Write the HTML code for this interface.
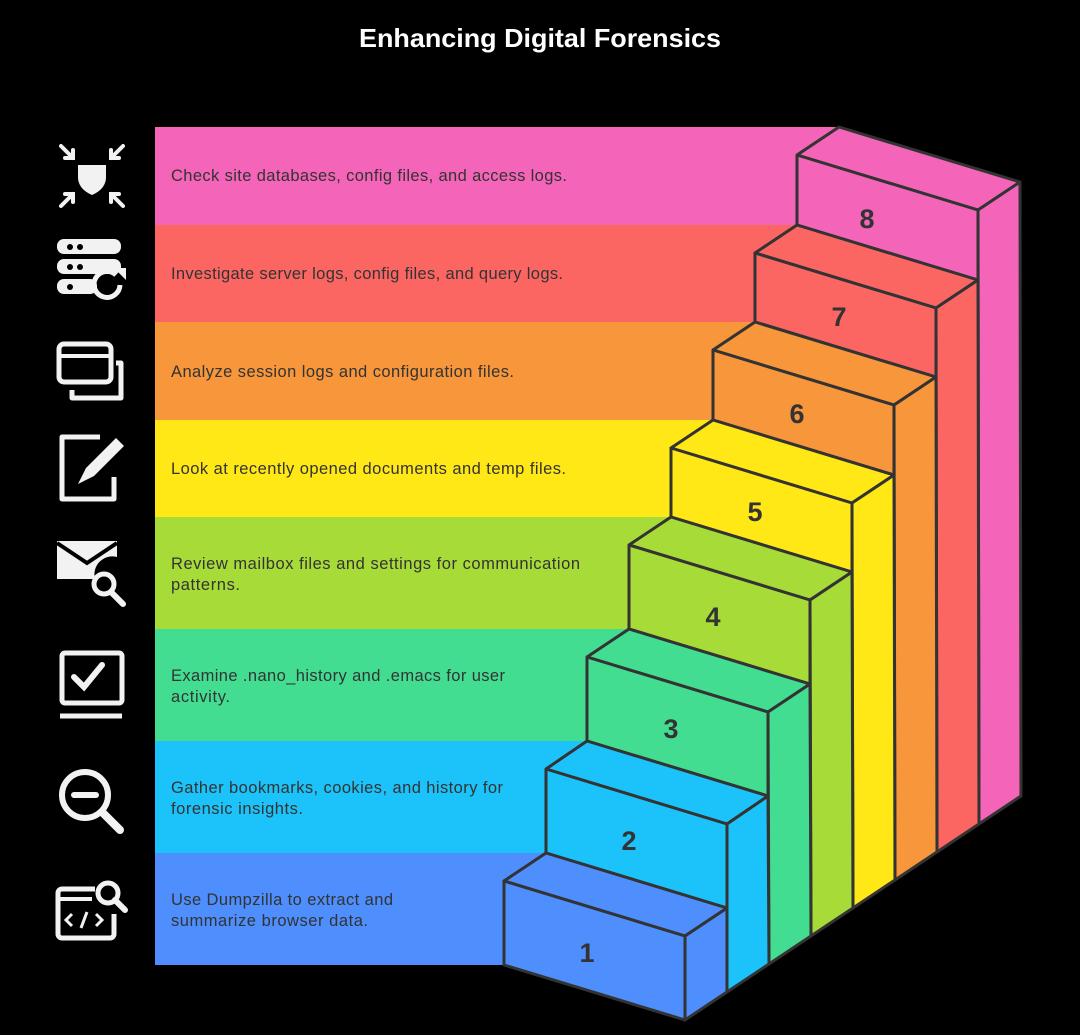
<!DOCTYPE html>
<html><head><meta charset="utf-8"><style>
html,body{margin:0;padding:0;background:#000;}
svg{display:block;}
text{font-family:"Liberation Sans",sans-serif;}
</style></head><body>
<svg width="1080" height="1035" viewBox="0 0 1080 1035" xmlns="http://www.w3.org/2000/svg">
<rect width="1080" height="1035" fill="#000"/>
<text x="359" y="47" font-size="26" font-weight="bold" fill="#fff" textLength="362" lengthAdjust="spacingAndGlyphs">Enhancing Digital Forensics</text>
<!-- bands -->
<rect x="155" y="127" width="684" height="98" fill="#F464B9"/>
<rect x="155" y="225" width="642" height="97" fill="#FB6663"/>
<rect x="155" y="322" width="600" height="98" fill="#F7963A"/>
<rect x="155" y="420" width="558" height="97" fill="#FFE815"/>
<rect x="155" y="517" width="516" height="112" fill="#A7DB38"/>
<rect x="155" y="629" width="474" height="112" fill="#43DD91"/>
<rect x="155" y="741" width="432" height="112" fill="#1CC3FA"/>
<rect x="155" y="853" width="390" height="112" fill="#4E8EFD"/>
<g stroke="#333" stroke-width="3" stroke-linejoin="round">
<polygon points="839,127 1020,182 978,210 797,155" fill="#F464B9"/>
<polygon points="797,155 978,210 978,280 797,225" fill="#F464B9"/>
<polygon points="978,210 1020,182 1021,796 979,824" fill="#F464B9"/>
<polygon points="797,225 978,280 936,308 755,253" fill="#FB6663"/>
<polygon points="755,253 936,308 936,377 755,322" fill="#FB6663"/>
<polygon points="936,308 978,280 979,824 937,852" fill="#FB6663"/>
<polygon points="755,322 936,377 894,405 713,350" fill="#F7963A"/>
<polygon points="713,350 894,405 894,475 713,420" fill="#F7963A"/>
<polygon points="894,405 936,377 937,852 895,880" fill="#F7963A"/>
<polygon points="713,420 894,475 852,503 671,448" fill="#FFE815"/>
<polygon points="671,448 852,503 852,572 671,517" fill="#FFE815"/>
<polygon points="852,503 894,475 895,880 853,908" fill="#FFE815"/>
<polygon points="671,517 852,572 810,600 629,545" fill="#A7DB38"/>
<polygon points="629,545 810,600 810,684 629,629" fill="#A7DB38"/>
<polygon points="810,600 852,572 853,908 811,936" fill="#A7DB38"/>
<polygon points="629,629 810,684 768,712 587,657" fill="#43DD91"/>
<polygon points="587,657 768,712 768,796 587,741" fill="#43DD91"/>
<polygon points="768,712 810,684 811,936 769,964" fill="#43DD91"/>
<polygon points="587,741 768,796 727,824 546,769" fill="#1CC3FA"/>
<polygon points="546,769 727,824 727,908 546,853" fill="#1CC3FA"/>
<polygon points="727,824 768,796 769,964 727,992" fill="#1CC3FA"/>
<polygon points="546,853 727,908 685,936 504,881" fill="#4E8EFD"/>
<polygon points="504,881 685,936 685,1020 504,965" fill="#4E8EFD"/>
<polygon points="685,936 727,908 727,992 685,1020" fill="#4E8EFD"/>
</g>
<g font-size="27" font-weight="bold" fill="#333" text-anchor="middle">
<text x="867" y="228">8</text>
<text x="839" y="326">7</text>
<text x="797" y="423">6</text>
<text x="755" y="521">5</text>
<text x="713" y="626">4</text>
<text x="671" y="738">3</text>
<text x="629" y="850">2</text>
<text x="587" y="962">1</text>
</g>
<g font-size="16.5" fill="#333" lengthAdjust="spacingAndGlyphs">
<text x="171" y="181" textLength="396">Check site databases, config files, and access logs.</text>
<text x="171" y="279" textLength="392">Investigate server logs, config files, and query logs.</text>
<text x="171" y="377" textLength="343">Analyze session logs and configuration files.</text>
<text x="171" y="474" textLength="395">Look at recently opened documents and temp files.</text>
<text x="171" y="569" textLength="409">Review mailbox files and settings for communication</text>
<text x="171" y="590" textLength="69">patterns.</text>
<text x="171" y="681" textLength="334">Examine .nano_history and .emacs for user</text>
<text x="171" y="702" textLength="59">activity.</text>
<text x="171" y="793" textLength="332">Gather bookmarks, cookies, and history for</text>
<text x="171" y="814" textLength="132">forensic insights.</text>
<text x="171" y="905" textLength="222">Use Dumpzilla to extract and</text>
<text x="171" y="926" textLength="197">summarize browser data.</text>
</g>
<!-- icons -->
<g fill="#f2f2f2" stroke="#f2f2f2">
<path d="M78,165 h28 v12 q0,12 -14,18 q-14,-6 -14,-18z" stroke="none"/>
<g stroke-width="4" stroke-linecap="round" fill="none">
<path d="M61,146 l12,12 M73,150 v8 h-8"/><path d="M123,146 l-12,12 M111,150 v8 h8"/>
<path d="M61,206 l12,-12 M65,194 h8 v8"/><path d="M123,206 l-12,-12 M119,194 h-8 v8"/>
</g>
<rect x="57" y="239" width="64" height="15" rx="7" stroke="none"/>
<rect x="57" y="259" width="64" height="15" rx="7" stroke="none"/>
<rect x="57" y="279" width="40" height="15" rx="7" stroke="none"/>
<g fill="#000" stroke="none"><circle cx="70" cy="247" r="3"/><circle cx="80" cy="247" r="3"/><circle cx="70" cy="267" r="3"/><circle cx="80" cy="267" r="3"/><circle cx="70" cy="287" r="3"/></g>
<path d="M120,285 a13,13 0 1 1 -4,-10" fill="none" stroke-width="5"/>
<path d="M114,268 l12,0 l0,12z" stroke="none"/>
<rect x="59" y="344" width="52" height="38" rx="5" fill="none" stroke-width="5"/>
<path d="M59,356 h52" stroke-width="4"/>
<path d="M116,363 h5 v35 h-49 v-8" fill="none" stroke-width="5" stroke-linejoin="round"/>
<path d="M100,437 h-38 v62 h52 v-22" fill="none" stroke-width="5" stroke-linejoin="round"/>
<path d="M78,484 l8,-16 l30,-30 l8,8 l-30,30z" stroke="none"/>
<path d="M57,541 h60 v16 a18,18 0 0 0 -22,22 h-38z" stroke="none"/>
<path d="M57,543 l30,20 l30,-20" fill="none" stroke="#000" stroke-width="4"/>
<circle cx="104" cy="584" r="10" fill="none" stroke-width="5"/>
<path d="M111,592 l12,12" stroke-width="6" stroke-linecap="round"/>
<rect x="62" y="653" width="60" height="50" rx="3" fill="none" stroke-width="5"/>
<path d="M74,677 l10,10 l18,-22" fill="none" stroke-width="6" stroke-linecap="round"/>
<path d="M60,716 h62" stroke-width="5"/>
<circle cx="85" cy="795" r="23" fill="none" stroke-width="6"/>
<path d="M74,795 h22" stroke-width="6" stroke-linecap="round"/>
<path d="M102,812 l18,18" stroke-width="8" stroke-linecap="round"/>
<path d="M95,889 h-33 a4,4 0 0 0 -4,4 v41 a4,4 0 0 0 4,4 h48 a4,4 0 0 0 4,-4 v-20" fill="none" stroke-width="5"/>
<path d="M58,899 h34" stroke-width="4"/>
<path d="M72,914 l-6,6 l6,6 M96,914 l6,6 l-6,6 M87,912 l-6,16" fill="none" stroke-width="3"/>
<circle cx="108" cy="893" r="10" fill="none" stroke-width="5"/>
<path d="M115,900 l10,10" stroke-width="6" stroke-linecap="round"/>
</g>
</svg>
</body></html>
